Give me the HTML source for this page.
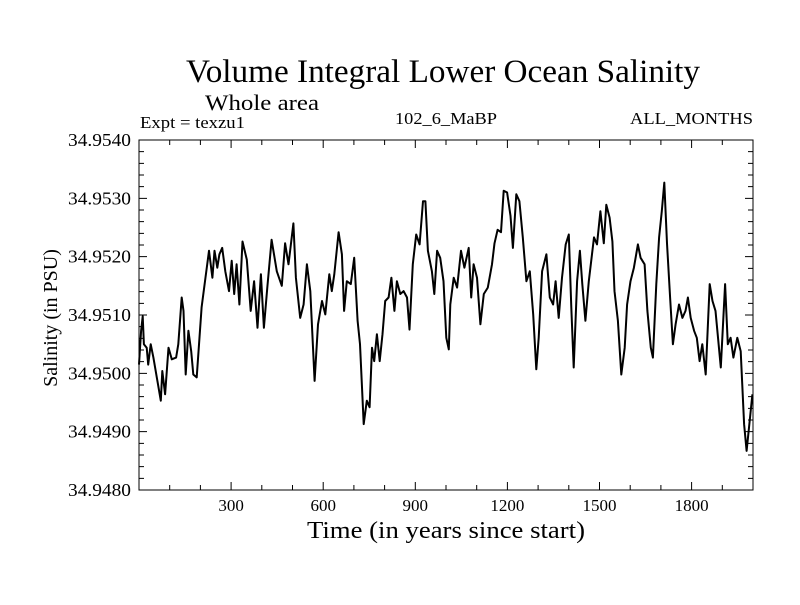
<!DOCTYPE html>
<html><head><meta charset="utf-8"><style>
html,body{margin:0;padding:0;background:#fff}
svg text{font-family:"Liberation Serif",serif;fill:#000}
</style></head><body>
<svg id="chart" width="800" height="600" xmlns="http://www.w3.org/2000/svg">
<text x="443" y="82" font-size="33" text-anchor="middle" textLength="514" lengthAdjust="spacingAndGlyphs">Volume Integral Lower Ocean Salinity</text>
<text x="205" y="110" font-size="22" textLength="114" lengthAdjust="spacingAndGlyphs">Whole area</text>
<text x="140" y="128" font-size="17" textLength="105" lengthAdjust="spacingAndGlyphs">Expt = texzu1</text>
<text x="395" y="124" font-size="17" textLength="102" lengthAdjust="spacingAndGlyphs">102_6_MaBP</text>
<text x="630" y="124" font-size="17" textLength="123" lengthAdjust="spacingAndGlyphs">ALL_MONTHS</text>
<text x="307" y="538" font-size="24" textLength="278" lengthAdjust="spacingAndGlyphs">Time (in years since start)</text>
<text x="0" y="0" font-size="20" text-anchor="middle" transform="translate(57,318) rotate(-90)">Salinity (in PSU)</text>
<g id="ticks"></g>
<g id="labels"></g>
<path id="line" fill="none" stroke="#000" stroke-width="2" stroke-linejoin="round"/>
<rect x="139" y="140" width="614" height="350" fill="none" stroke="#000" stroke-width="1"/>
</svg>
<script>
const years=[0,7,12,16,25,30,38,47,58,71,76,85,96,107,121,128,139,145,152,161,170,177,188,204,215,228,239,246,255,262,271,281,293,302,310,318,327,337,351,364,375,386,397,407,418,432,449,465,476,487,503,511,525,536,547,558,572,583,596,607,620,628,636,650,661,668,677,690,701,712,720,732,742,751,759,766,775,784,793,802,813,822,832,840,851,862,873,881,892,903,914,925,933,941,954,962,971,981,992,1001,1009,1014,1025,1036,1049,1060,1074,1082,1090,1101,1112,1123,1136,1150,1158,1168,1179,1188,1199,1210,1218,1229,1239,1250,1262,1273,1284,1294,1302,1313,1327,1338,1349,1357,1367,1378,1390,1400,1408,1416,1427,1436,1444,1454,1465,1482,1492,1503,1514,1522,1533,1542,1549,1560,1571,1582,1590,1601,1612,1625,1634,1647,1656,1667,1674,1685,1694,1703,1711,1720,1730,1739,1748,1759,1770,1780,1788,1797,1808,1817,1826,1835,1846,1859,1868,1878,1895,1909,1918,1927,1936,1949,1960,1971,1979,1987,1998];
const salinity=[34.95015,34.95073,34.95098,34.95050,34.95044,34.95015,34.95050,34.95027,34.94993,34.94953,34.95004,34.94964,34.95044,34.95024,34.95027,34.95050,34.95130,34.95107,34.94998,34.95073,34.95038,34.94998,34.94993,34.95113,34.95158,34.95210,34.95164,34.95210,34.95181,34.95204,34.95215,34.95175,34.95141,34.95193,34.95136,34.95187,34.95118,34.95226,34.95195,34.95107,34.95158,34.95078,34.95170,34.95078,34.95147,34.95229,34.95175,34.95150,34.95223,34.95187,34.95257,34.95164,34.95095,34.95118,34.95187,34.95141,34.94987,34.95084,34.95124,34.95101,34.95170,34.95141,34.95170,34.95242,34.95204,34.95107,34.95158,34.95153,34.95198,34.95090,34.95050,34.94913,34.94953,34.94942,34.95044,34.95021,34.95067,34.95021,34.95067,34.95124,34.95130,34.95164,34.95107,34.95158,34.95136,34.95141,34.95130,34.95075,34.95187,34.95238,34.95221,34.95295,34.95295,34.95210,34.95175,34.95136,34.95210,34.95198,34.95158,34.95061,34.95041,34.95118,34.95164,34.95147,34.95210,34.95181,34.95215,34.95130,34.95187,34.95164,34.95084,34.95136,34.95147,34.95187,34.95223,34.95246,34.95242,34.95313,34.95310,34.95270,34.95215,34.95307,34.95295,34.95233,34.95158,34.95175,34.95101,34.95007,34.95061,34.95175,34.95204,34.95130,34.95118,34.95158,34.95095,34.95164,34.95221,34.95238,34.95113,34.95010,34.95158,34.95210,34.95153,34.95090,34.95158,34.95233,34.95221,34.95278,34.95223,34.95289,34.95267,34.95226,34.95141,34.95090,34.94998,34.95044,34.95118,34.95158,34.95181,34.95221,34.95198,34.95187,34.95107,34.95044,34.95027,34.95153,34.95233,34.95278,34.95327,34.95223,34.95130,34.95050,34.95084,34.95118,34.95095,34.95107,34.95130,34.95095,34.95073,34.95061,34.95021,34.95050,34.94998,34.95153,34.95124,34.95107,34.95010,34.95153,34.95050,34.95061,34.95027,34.95061,34.95038,34.94913,34.94867,34.94907,34.94964];
const yTickLabels=["34.9480","34.9490","34.9500","34.9510","34.9520","34.9530","34.9540"];
const xTickLabels=["300","600","900","1200","1500","1800"];
const X0=139,X1=753,Y0=490,Y1=140;
const xMin=0,xMax=2000,yMin=34.948,yMax=34.954;
function xs(v){return X0+(v-xMin)/(xMax-xMin)*(X1-X0);}
function ys(v){return Y0-(v-yMin)/(yMax-yMin)*(Y0-Y1);}
const NS="http://www.w3.org/2000/svg";
const tg=document.getElementById('ticks'),lg=document.getElementById('labels');
let d='';
for(let y=0;y<=30;y++){
 const v=yMin+y*0.0002,py=ys(v),len=(y%5===0)?8:5;
 d+=`M${X0},${py}h${len}M${X1},${py}h${-len}`;
}
for(let x=100;x<2000;x+=100){
 const px=xs(x),len=(x%300===0)?8:5;
 d+=`M${px},${Y0}v${-len}M${px},${Y1}v${len}`;
}
const tp=document.createElementNS(NS,'path');
tp.setAttribute('d',d);tp.setAttribute('stroke','#000');tp.setAttribute('fill','none');


tg.appendChild(tp);
yTickLabels.forEach(s=>{
 const t=document.createElementNS(NS,'text');
 t.setAttribute('x',131);t.setAttribute('y',ys(parseFloat(s))+6);
 t.setAttribute('font-size','18');t.setAttribute('text-anchor','end');
 t.setAttribute('textLength','63');t.setAttribute('lengthAdjust','spacingAndGlyphs');
 
 
 t.textContent=s;lg.appendChild(t);
});
xTickLabels.forEach(s=>{
 const t=document.createElementNS(NS,'text');
 t.setAttribute('x',xs(parseFloat(s)));t.setAttribute('y',511);
 t.setAttribute('font-size','17');t.setAttribute('text-anchor','middle');
 
 
 t.textContent=s;lg.appendChild(t);
});
document.getElementById('line').setAttribute('d',years.map((yr,i)=>(i?'L':'M')+xs(yr).toFixed(1)+','+ys(salinity[i]).toFixed(1)).join(''));
</script>
</body></html>
